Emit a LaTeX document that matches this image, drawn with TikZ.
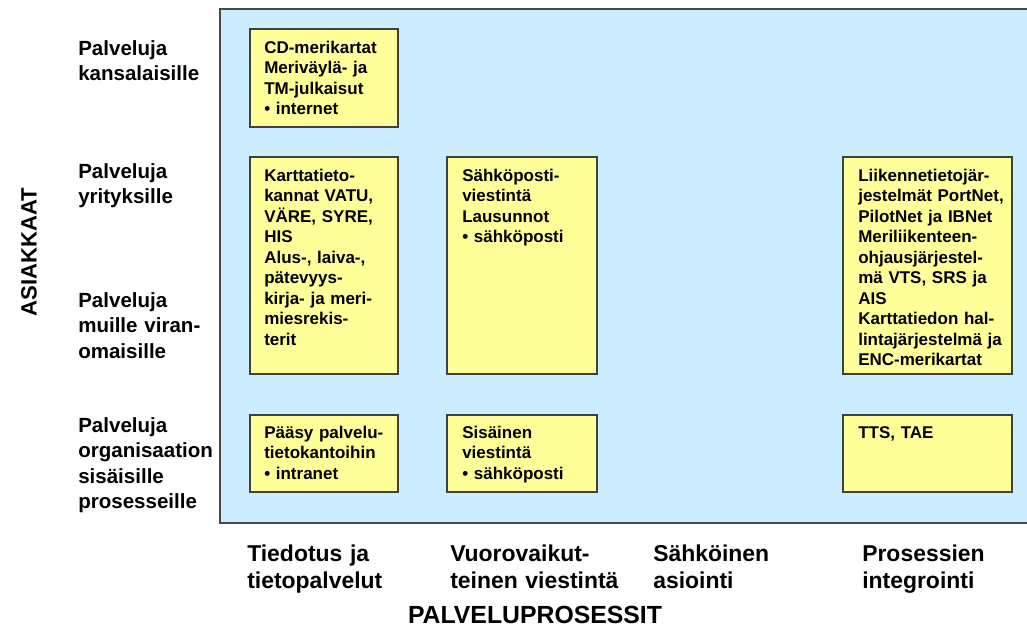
\documentclass[tikz,border=0pt]{standalone}
\usepackage{fontspec}
\setmainfont{Liberation Sans}
\usetikzlibrary{fit}
\begin{document}
\begin{tikzpicture}[x=0.75pt,y=-0.75pt,
  panel/.style={draw=black!72, line width=1.5pt, fill=sky, inner sep=0pt},
  cell/.style={draw=black!75, line width=1.1pt, fill=pale, inner sep=0pt},
  celltext/.style={anchor=base west, inner sep=0pt, text width=150pt, align=left,
    font=\fontsize{12.75pt}{15.4pt}\selectfont\bfseries},
  rowlabel/.style={anchor=base west, inner sep=0pt, text width=120pt, align=left,
    font=\fontsize{15.4pt}{19.2pt}\selectfont\bfseries},
  collabel/.style={anchor=base west, inner sep=0pt, text width=140pt, align=left,
    font=\fontsize{17.2pt}{20.3pt}\selectfont\bfseries},
  axistitle/.style={inner sep=0pt, font=\fontsize{18.6pt}{22pt}\selectfont\bfseries}]
\definecolor{sky}{HTML}{CCECFF}
\definecolor{pale}{HTML}{FFFF99}
\useasboundingbox (0,0) rectangle (1027,636);

% background panel
\node[panel, fit={(220,9) (1040,523)}] (panel) {};

% cells of the matrix
\node[cell, fit={(250,29) (398,127)}] (b1) {};
\node[cell, fit={(250,157) (398,374)}] (b2) {};
\node[cell, fit={(447,157) (597,374)}] (b3) {};
\node[cell, fit={(843,157) (1012,374)}] (b4) {};
\node[cell, fit={(250,415) (398,492)}] (b5) {};
\node[cell, fit={(447,415) (597,492)}] (b6) {};
\node[cell, fit={(843,415) (1012,492)}] (b7) {};

\node[celltext] (t1) at (264,53) {CD-merikartat\\Meriväylä- ja\\TM-julkaisut\\• internet};
\node[celltext] (t2) at (264,181) {Karttatieto-\\kannat VATU,\\VÄRE, SYRE,\\HIS\\Alus-, laiva-,\\pätevyys-\\kirja- ja meri-\\miesrekis-\\terit};
\node[celltext] (t3) at (462,181) {Sähköposti-\\viestintä\\Lausunnot\\• sähköposti};
\node[celltext] (t4) at (858,181) {Liikennetietojär-\\jestelmät PortNet,\\PilotNet ja IBNet\\Meriliikenteen-\\ohjausjärjestel-\\mä VTS, SRS ja\\AIS\\Karttatiedon hal-\\lintajärjestelmä ja\\ENC-merikartat};
\node[celltext] (t5) at (264,438) {Pääsy palvelu-\\tietokantoihin\\• intranet};
\node[celltext] (t6) at (462,438) {Sisäinen\\viestintä\\• sähköposti};
\node[celltext] (t7) at (858,438) {TTS, TAE};

% row labels
\node[rowlabel] (r1) at (78,55) {Palveluja\\kansalaisille};
\node[rowlabel] (r2) at (78,178) {Palveluja\\yrityksille};
\node[rowlabel] (r3) at (78,307) {Palveluja\\muille viran-\\omaisille};
\node[rowlabel] (r4) at (78,432) {Palveluja\\organisaation\\sisäisille\\prosesseille};
\node[axistitle, rotate=90, font=\fontsize{16.6pt}{19pt}\selectfont\bfseries] (ya) at (29,252) {ASIAKKAAT};

% column labels
\node[collabel] (c1) at (247,561) {Tiedotus ja\\tietopalvelut};
\node[collabel] (c2) at (450,561) {Vuorovaikut-\\teinen viestintä};
\node[collabel] (c3) at (653,561) {Sähköinen\\asiointi};
\node[collabel] (c4) at (862,561) {Prosessien\\integrointi};
\node[axistitle] (xa) at (535,615) {PALVELUPROSESSIT};
\end{tikzpicture}
\end{document}
